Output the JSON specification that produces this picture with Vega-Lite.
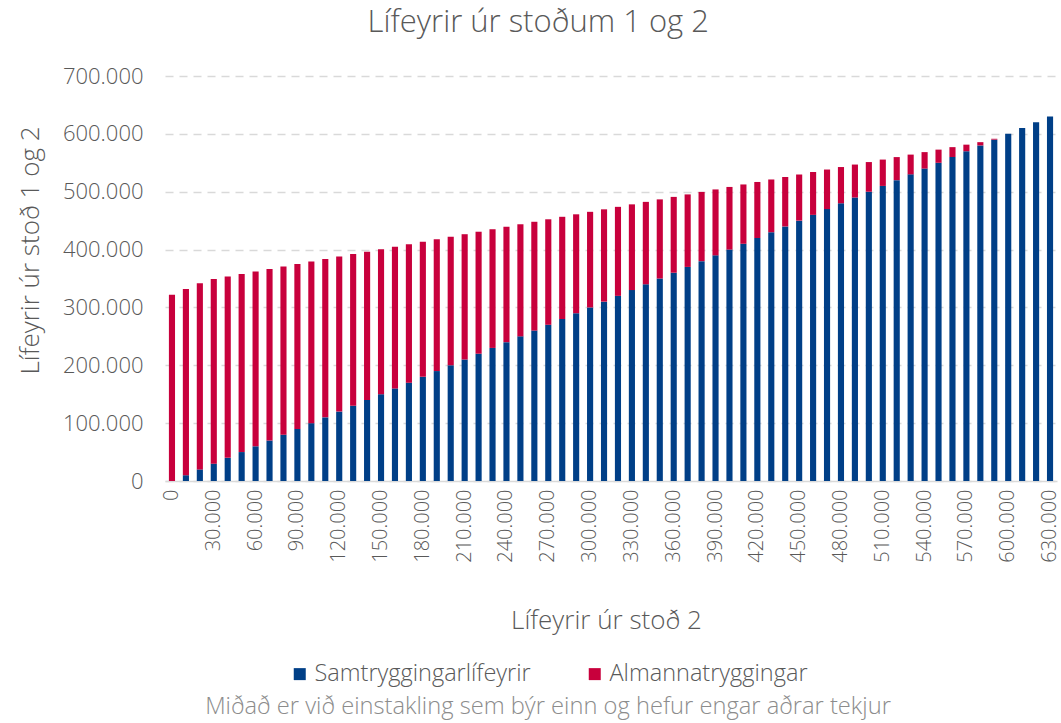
{
  "$schema": "https://vega.github.io/schema/vega-lite/v6.json",
  "width": 892,
  "height": 405,
  "autosize": {"type": "none"},
  "padding": {"left": 165, "top": 76, "right": 4, "bottom": 242},
  "title": {
    "text": "Lífeyrir úr stoðum 1 og 2",
    "fontSize": 31,
    "font": "Open Sans",
    "fontWeight": 300,
    "color": "#595959",
    "anchor": "middle",
    "frame": "bounds",
    "offset": 26
  },
  "data": {
    "values": [
      {"stod2": 0, "Samtryggingarlífeyrir": 0, "Almannatryggingar": 322000},
      {"stod2": 10000, "Samtryggingarlífeyrir": 10000, "Almannatryggingar": 322000},
      {"stod2": 20000, "Samtryggingarlífeyrir": 20000, "Almannatryggingar": 322000},
      {"stod2": 30000, "Samtryggingarlífeyrir": 30000, "Almannatryggingar": 319150},
      {"stod2": 40000, "Samtryggingarlífeyrir": 40000, "Almannatryggingar": 313450},
      {"stod2": 50000, "Samtryggingarlífeyrir": 50000, "Almannatryggingar": 307750},
      {"stod2": 60000, "Samtryggingarlífeyrir": 60000, "Almannatryggingar": 302050},
      {"stod2": 70000, "Samtryggingarlífeyrir": 70000, "Almannatryggingar": 296350},
      {"stod2": 80000, "Samtryggingarlífeyrir": 80000, "Almannatryggingar": 290650},
      {"stod2": 90000, "Samtryggingarlífeyrir": 90000, "Almannatryggingar": 284950},
      {"stod2": 100000, "Samtryggingarlífeyrir": 100000, "Almannatryggingar": 279250},
      {"stod2": 110000, "Samtryggingarlífeyrir": 110000, "Almannatryggingar": 273550},
      {"stod2": 120000, "Samtryggingarlífeyrir": 120000, "Almannatryggingar": 267850},
      {"stod2": 130000, "Samtryggingarlífeyrir": 130000, "Almannatryggingar": 262150},
      {"stod2": 140000, "Samtryggingarlífeyrir": 140000, "Almannatryggingar": 256450},
      {"stod2": 150000, "Samtryggingarlífeyrir": 150000, "Almannatryggingar": 250750},
      {"stod2": 160000, "Samtryggingarlífeyrir": 160000, "Almannatryggingar": 245050},
      {"stod2": 170000, "Samtryggingarlífeyrir": 170000, "Almannatryggingar": 239350},
      {"stod2": 180000, "Samtryggingarlífeyrir": 180000, "Almannatryggingar": 233650},
      {"stod2": 190000, "Samtryggingarlífeyrir": 190000, "Almannatryggingar": 227950},
      {"stod2": 200000, "Samtryggingarlífeyrir": 200000, "Almannatryggingar": 222250},
      {"stod2": 210000, "Samtryggingarlífeyrir": 210000, "Almannatryggingar": 216550},
      {"stod2": 220000, "Samtryggingarlífeyrir": 220000, "Almannatryggingar": 210850},
      {"stod2": 230000, "Samtryggingarlífeyrir": 230000, "Almannatryggingar": 205150},
      {"stod2": 240000, "Samtryggingarlífeyrir": 240000, "Almannatryggingar": 199450},
      {"stod2": 250000, "Samtryggingarlífeyrir": 250000, "Almannatryggingar": 193750},
      {"stod2": 260000, "Samtryggingarlífeyrir": 260000, "Almannatryggingar": 188050},
      {"stod2": 270000, "Samtryggingarlífeyrir": 270000, "Almannatryggingar": 182350},
      {"stod2": 280000, "Samtryggingarlífeyrir": 280000, "Almannatryggingar": 176650},
      {"stod2": 290000, "Samtryggingarlífeyrir": 290000, "Almannatryggingar": 170950},
      {"stod2": 300000, "Samtryggingarlífeyrir": 300000, "Almannatryggingar": 165250},
      {"stod2": 310000, "Samtryggingarlífeyrir": 310000, "Almannatryggingar": 159550},
      {"stod2": 320000, "Samtryggingarlífeyrir": 320000, "Almannatryggingar": 153850},
      {"stod2": 330000, "Samtryggingarlífeyrir": 330000, "Almannatryggingar": 148150},
      {"stod2": 340000, "Samtryggingarlífeyrir": 340000, "Almannatryggingar": 142450},
      {"stod2": 350000, "Samtryggingarlífeyrir": 350000, "Almannatryggingar": 136750},
      {"stod2": 360000, "Samtryggingarlífeyrir": 360000, "Almannatryggingar": 131050},
      {"stod2": 370000, "Samtryggingarlífeyrir": 370000, "Almannatryggingar": 125350},
      {"stod2": 380000, "Samtryggingarlífeyrir": 380000, "Almannatryggingar": 119650},
      {"stod2": 390000, "Samtryggingarlífeyrir": 390000, "Almannatryggingar": 113950},
      {"stod2": 400000, "Samtryggingarlífeyrir": 400000, "Almannatryggingar": 108250},
      {"stod2": 410000, "Samtryggingarlífeyrir": 410000, "Almannatryggingar": 102550},
      {"stod2": 420000, "Samtryggingarlífeyrir": 420000, "Almannatryggingar": 96850},
      {"stod2": 430000, "Samtryggingarlífeyrir": 430000, "Almannatryggingar": 91150},
      {"stod2": 440000, "Samtryggingarlífeyrir": 440000, "Almannatryggingar": 85450},
      {"stod2": 450000, "Samtryggingarlífeyrir": 450000, "Almannatryggingar": 79750},
      {"stod2": 460000, "Samtryggingarlífeyrir": 460000, "Almannatryggingar": 74050},
      {"stod2": 470000, "Samtryggingarlífeyrir": 470000, "Almannatryggingar": 68350},
      {"stod2": 480000, "Samtryggingarlífeyrir": 480000, "Almannatryggingar": 62650},
      {"stod2": 490000, "Samtryggingarlífeyrir": 490000, "Almannatryggingar": 56950},
      {"stod2": 500000, "Samtryggingarlífeyrir": 500000, "Almannatryggingar": 51250},
      {"stod2": 510000, "Samtryggingarlífeyrir": 510000, "Almannatryggingar": 45550},
      {"stod2": 520000, "Samtryggingarlífeyrir": 520000, "Almannatryggingar": 39850},
      {"stod2": 530000, "Samtryggingarlífeyrir": 530000, "Almannatryggingar": 34150},
      {"stod2": 540000, "Samtryggingarlífeyrir": 540000, "Almannatryggingar": 28450},
      {"stod2": 550000, "Samtryggingarlífeyrir": 550000, "Almannatryggingar": 22750},
      {"stod2": 560000, "Samtryggingarlífeyrir": 560000, "Almannatryggingar": 17050},
      {"stod2": 570000, "Samtryggingarlífeyrir": 570000, "Almannatryggingar": 11350},
      {"stod2": 580000, "Samtryggingarlífeyrir": 580000, "Almannatryggingar": 5650},
      {"stod2": 590000, "Samtryggingarlífeyrir": 590000, "Almannatryggingar": 1500},
      {"stod2": 600000, "Samtryggingarlífeyrir": 600000, "Almannatryggingar": 0},
      {"stod2": 610000, "Samtryggingarlífeyrir": 610000, "Almannatryggingar": 0},
      {"stod2": 620000, "Samtryggingarlífeyrir": 620000, "Almannatryggingar": 0},
      {"stod2": 630000, "Samtryggingarlífeyrir": 630000, "Almannatryggingar": 0}
    ]
  },
  "transform": [
    {"fold": ["Samtryggingarlífeyrir", "Almannatryggingar"], "as": ["series", "value"]}
  ],
  "mark": {"type": "bar"},
  "encoding": {
    "x": {
      "field": "stod2",
      "type": "ordinal",
      "scale": {"paddingInner": 0.56, "paddingOuter": 0.28},
      "axis": {
        "title": "Lífeyrir úr stoð 2",
        "values": [0, 30000, 60000, 90000, 120000, 150000, 180000, 210000, 240000, 270000, 300000, 330000, 360000, 390000, 420000, 450000, 480000, 510000, 540000, 570000, 600000, 630000],
        "labelExpr": "replace(format(datum.value, ','), ',', '.')",
        "labelAngle": 270,
        "labelAlign": "right",
        "labelBaseline": "middle",
        "labelPadding": 8,
        "labelFontSize": 20,
        "ticks": false,
        "domainColor": "#d9d9d9",
        "domainWidth": 1.5,
        "titleY": 139,
        "titleX": 441,
        "titleBaseline": "middle"
      }
    },
    "y": {
      "field": "value",
      "type": "quantitative",
      "stack": "zero",
      "scale": {"domain": [0, 700000]},
      "axis": {
        "title": "Lífeyrir úr stoð 1 og 2",
        "values": [0, 100000, 200000, 300000, 400000, 500000, 600000, 700000],
        "labelExpr": "replace(format(datum.value, ','), ',', '.')",
        "grid": true,
        "gridDash": [8, 6],
        "gridColor": "#d9d9d9",
        "gridWidth": 1.5,
        "domain": false,
        "ticks": false,
        "labelPadding": 22,
        "labelFontSize": 22,
        "titleX": -135,
        "titleY": 174,
        "titleBaseline": "middle",
        "titleAngle": 270
      }
    },
    "color": {
      "field": "series",
      "type": "nominal",
      "scale": {
        "domain": ["Samtryggingarlífeyrir", "Almannatryggingar"],
        "range": ["#003f87", "#c8003c"]
      },
      "legend": {
        "title": "Miðað er við einstakling sem býr einn og hefur engar aðrar tekjur",
        "orient": "none",
        "legendX": 40,
        "legendY": 586,
        "direction": "horizontal",
        "titleOrient": "bottom",
        "titleAnchor": "middle",
        "symbolType": "square",
        "symbolSize": 144,
        "symbolStrokeWidth": 0,
        "symbolOpacity": 1,
        "labelOffset": 3,
        "columnPadding": 52,
        "titlePadding": 9
      }
    },
    "order": {"field": "series", "sort": "descending"}
  },
  "config": {
    "font": "Open Sans",
    "view": {"stroke": null},
    "axis": {
      "labelFont": "Open Sans",
      "labelFontWeight": 300,
      "labelColor": "#595959",
      "titleFont": "Open Sans",
      "titleFontSize": 26,
      "titleFontWeight": 300,
      "titleColor": "#595959"
    },
    "legend": {
      "labelFont": "Open Sans",
      "labelFontSize": 23.5,
      "labelFontWeight": 300,
      "labelColor": "#595959",
      "labelLimit": 1000,
      "titleFont": "Open Sans",
      "titleFontSize": 23.7,
      "titleFontWeight": 300,
      "titleColor": "#8c8c8c",
      "titleLimit": 1000
    }
  }
}
